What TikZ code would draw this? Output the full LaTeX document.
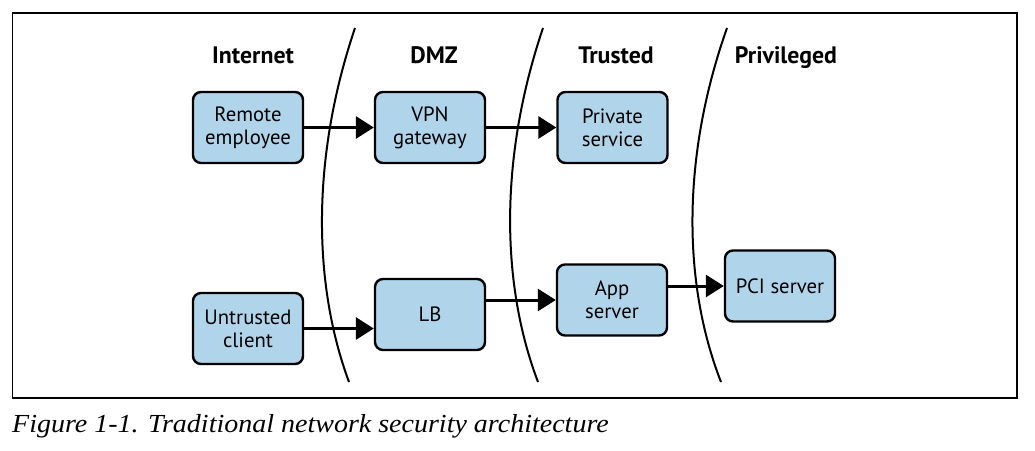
\documentclass[tikz,border=0pt]{standalone}
\usepackage{fontspec}
\setmainfont{Liberation Serif}
\newfontfamily\nodefont{PT Sans}
\newfontfamily\capfont[FakeStretch=1.077]{Liberation Serif}
\usetikzlibrary{arrows.meta}
\definecolor{boxblue}{HTML}{B0D4EA}
\begin{document}
\begin{tikzpicture}[x=1pt,y=-1pt,
  box/.style={draw=black, line width=2.4pt, fill=boxblue, rounded corners=8pt,
    minimum width=110pt, minimum height=71pt, inner sep=0pt, align=center,
    font=\nodefont\fontsize{20.7}{23}\selectfont},
  zone/.style={anchor=base, font=\nodefont\bfseries\fontsize{23.8}{27}\selectfont},
  flow/.style={line width=3pt, -{Triangle[length=18pt,width=22pt]}},
  wall/.style={line width=2pt},
  frame/.style={line width=1.5pt}]
\useasboundingbox (0,0) rectangle (1035,450);
\draw[frame] (12.5,13) rectangle (1017,398);
% zone labels
\node[zone] (lint) at (253,63) {Internet};
\node[zone] (ldmz) at (434,63) {DMZ};
\node[zone] (ltru) at (616,63) {Trusted};
\node[zone] (lpri) at (786,63) {Privileged};
% walls
\draw[wall] (355,28) .. controls (312,155) and (312,282) .. (349,382);
\draw[wall] (543,28) .. controls (500,155) and (500,282) .. (538,382);
\draw[wall] (727,28) .. controls (682,155) and (682,282) .. (721,382);
% nodes
\node[box] (remote) at (248,127.5) {Remote\\employee};
\node[box] (vpn) at (430,127.5) {VPN\\gateway};
\node[box] (priv) at (612.5,127.5) {Private\\service};
\node[box] (untr) at (248,328.5) {Untrusted\\client};
\node[box] (lb) at (430,314.5) {LB};
\node[box] (app) at (612,300) {App\\server};
\node[box] (pci) at (780,286) {PCI server};
% arrows
\draw[flow] (remote.east) -- (vpn.west);
\draw[flow] (vpn.east) -- (priv.west);
\draw[flow] (untr.east) -- (untr.east -| lb.west);
\draw[flow] (lb.east |- app.west) -- (app.west);
\draw[flow] (app.east |- pci.west) -- (pci.west);
% caption
\node[anchor=base west, inner sep=0pt, font=\capfont\itshape\fontsize{26}{30}\selectfont] (cap) at (12,432) {Figure 1-1. Traditional network security architecture};
\end{tikzpicture}
\end{document}
